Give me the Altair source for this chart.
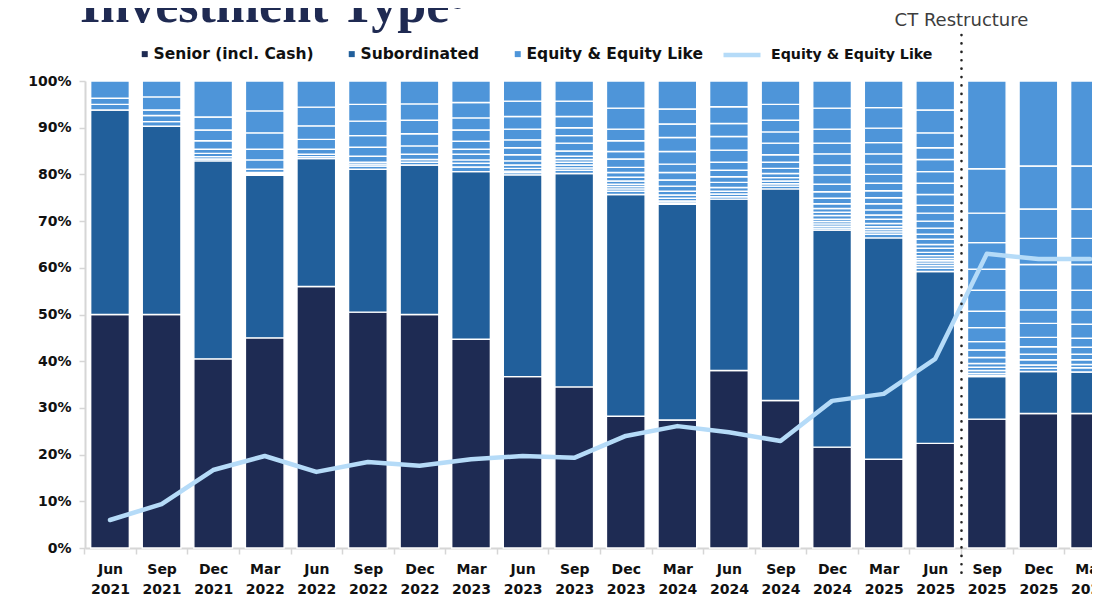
import altair as alt
import pandas as pd

categories = ["Jun 2021", "Sep 2021", "Dec 2021", "Mar 2022", "Jun 2022", "Sep 2022",
              "Dec 2022", "Mar 2023", "Jun 2023", "Sep 2023", "Dec 2023", "Mar 2024",
              "Jun 2024", "Sep 2024", "Dec 2024", "Mar 2025", "Jun 2025", "Sep 2025",
              "Dec 2025", "Mar 2026"]

senior = [50.0, 50.0, 40.5, 45.0, 56.0, 50.5, 50.0, 44.7, 36.7, 34.5,
          28.2, 27.4, 38.0, 31.6, 21.6, 19.0, 22.4, 27.6, 28.8, 28.8]

subordinated = [43.8, 40.3, 42.4, 34.8, 27.4, 30.6, 32.0, 35.9, 43.2, 45.7,
                47.5, 46.2, 36.7, 45.3, 46.5, 47.4, 36.8, 9.1, 9.0, 8.9]

equity_line = [6.0, 9.4, 16.7, 19.7, 16.3, 18.4, 17.6, 19.0, 19.7, 19.3,
               24.0, 26.1, 24.8, 22.9, 31.5, 33.0, 40.5, 63.0, 61.9, 61.9]

# levels (%) of the white separators between individual equity holdings
equity_splits = [
    [96.3, 95.0],
    [96.6, 93.8, 92.6, 91.3],
    [92.3, 89.5, 87.2, 85.4, 84.5, 83.8, 83.3],
    [93.6, 88.9, 85.4, 83.1, 81.1, 80.4, 80.1],
    [94.4, 90.4, 87.5, 85.4, 84.3, 83.8],
    [95.0, 91.4, 88.3, 85.8, 83.9, 82.6, 82.2, 81.8],
    [95.1, 91.6, 88.7, 86.1, 84.3, 83.2, 82.6],
    [95.4, 92.1, 89.5, 87.1, 85.4, 84.3, 83.1, 82.4, 81.6],
    [95.7, 92.4, 89.7, 87.4, 85.7, 84.2, 82.9, 82.0, 81.3, 80.7, 80.4],
    [95.7, 92.4, 90.0, 88.3, 86.7, 85.0, 83.9, 83.2, 82.6, 82.0, 81.4, 80.9],
    [94.2, 89.7, 87.2, 84.9, 83.3, 81.5, 80.4, 79.4, 78.6, 77.9, 77.4, 76.9, 76.4],
    [94.0, 90.8, 87.9, 84.9, 82.2, 80.4, 78.8, 77.5, 76.4, 75.6, 74.9, 74.3, 73.9],
    [94.5, 90.9, 88.1, 85.2, 82.6, 80.9, 79.5, 78.3, 77.2, 76.4, 75.8, 75.2],
    [95.0, 91.6, 89.1, 86.7, 84.2, 82.6, 81.3, 80.2, 79.3, 78.6, 78.0, 77.5],
    [94.2, 89.7, 86.7, 84.4, 82.0, 79.9, 77.9, 76.3, 74.9, 73.7, 72.7, 71.9, 71.2,
     70.4, 69.9, 69.4, 68.9, 68.5],
    [94.3, 89.9, 86.8, 84.4, 82.2, 80.0, 78.1, 76.5, 75.0, 73.7, 72.4, 71.3, 70.4,
     69.5, 68.8, 68.2, 67.7, 67.2],
    [93.8, 88.9, 85.7, 83.2, 80.6, 78.1, 75.7, 73.4, 71.7, 70.0, 68.5, 67.2, 66.1,
     65.0, 64.2, 63.3, 62.6, 62.0, 61.5, 61.0, 60.5, 59.9],
    [81.2, 71.7, 65.4, 59.7, 55.2, 50.7, 47.2, 44.2, 42.4, 40.8, 39.5, 38.7, 38.0,
     37.4, 37.0],
    [81.8, 72.6, 66.3, 60.7, 55.2, 51.0, 48.1, 45.1, 43.1, 41.5, 40.3, 39.2, 38.5],
    [81.8, 72.6, 66.3, 60.7, 55.2, 51.0, 47.9, 44.9, 43.0, 41.5, 40.3, 39.3, 38.6],
]

kinds = ["Senior (incl. Cash)", "Subordinated", "Equity & Equity Like"]
kind_colors = ["#1e2b53", "#215f9b", "#4e95d9"]
line_name = "Equity & Equity Like"
line_color = "#b5dbf8"
title_text = "Investment Type\u2076"
marker_cat = "Sep 2025"
marker_text = "CT Restructure"

rows = []
for i, c in enumerate(categories):
    s = senior[i]
    t = s + subordinated[i]
    rows.append(dict(cat=c, kind=kinds[0], y0=0.0, y1=s))
    rows.append(dict(cat=c, kind=kinds[1], y0=s, y1=t))
    levels = sorted([t] + equity_splits[i] + [100.0])
    for a, b in zip(levels[:-1], levels[1:]):
        rows.append(dict(cat=c, kind=kinds[2], y0=a, y1=b))
bar_df = pd.DataFrame(rows)
line_df = pd.DataFrame({"cat": categories, "value": equity_line, "series": line_name})

LABEL_FONT = "DejaVu Sans"
STEP = 1030 / 19.97

x_enc = alt.X(
    "cat:N",
    sort=categories,
    scale=alt.Scale(domain=categories, paddingInner=0.25, paddingOuter=0.11),
    axis=alt.Axis(
        title=None, labelAngle=0, labelExpr="split(datum.label, ' ')",
        labelFont=LABEL_FONT, labelFontSize=14, labelFontWeight="bold",
        labelColor="#111111", labelLineHeight=20, labelPadding=8,
        tickSize=6, tickColor="#d6d6d6", tickWidth=1.5,
        tickOffset=-STEP / 2, labelOffset=STEP / 2,
        domainColor="#d6d6d6", domainWidth=2,
    ),
)

y_enc = alt.Y(
    "y0:Q",
    scale=alt.Scale(domain=[0, 100], nice=False),
    axis=alt.Axis(
        title=None, values=list(range(0, 101, 10)), labelExpr="datum.value + '%'",
        labelFont=LABEL_FONT, labelFontSize=14, labelFontWeight="bold",
        labelColor="#111111", labelPadding=8, tickSize=6, tickColor="#d6d6d6",
        tickWidth=1.5, grid=False, domainColor="#d6d6d6", domainWidth=2,
    ),
)

bars = alt.Chart(bar_df).mark_bar(stroke="white", strokeWidth=1.4).encode(
    x=x_enc,
    y=y_enc,
    y2="y1:Q",
    color=alt.Color(
        "kind:N",
        scale=alt.Scale(domain=kinds, range=kind_colors),
        legend=alt.Legend(
            orient="none", legendX=52, legendY=-35, direction="horizontal",
            title=None, symbolType="square", symbolSize=36, symbolStrokeWidth=0,
            labelFont=LABEL_FONT, labelFontSize=15.5, labelFontWeight="bold",
            labelColor="#111111", labelOffset=1, labelLimit=0,
            columnPadding=30, padding=0,
        ),
    ),
    order=alt.Order("y0:Q"),
)

line = alt.Chart(line_df).mark_line(strokeWidth=4.5, strokeCap="round", strokeJoin="round").encode(
    x=alt.X("cat:N", sort=categories),
    y=alt.Y("value:Q"),
    stroke=alt.Stroke(
        "series:N",
        scale=alt.Scale(domain=[line_name], range=[line_color]),
        legend=alt.Legend(
            orient="none", legendX=636, legendY=-47, direction="horizontal",
            title=None, symbolType="stroke", symbolSize=1369, symbolStrokeWidth=4.5,
            labelFont=LABEL_FONT, labelFontSize=14.2, labelFontWeight="bold",
            labelColor="#111111", labelOffset=8, labelLimit=0, padding=0,
        ),
    ),
)

marker_df = pd.DataFrame({"cat": [marker_cat], "label": [marker_text]})

rule = alt.Chart(marker_df).mark_rule(
    color="#222222", strokeWidth=2.6, strokeDash=[0.1, 8.3], strokeCap="round", xOffset=-6
).encode(
    x=alt.X("cat:N", bandPosition=0),
    y=alt.value(-46),
    y2=alt.value(499),
)

ct_text = alt.Chart(marker_df).mark_text(
    font=LABEL_FONT, fontSize=18, color="#3d3d3d", align="center",
    baseline="alphabetic", xOffset=-6,
).encode(
    x=alt.X("cat:N", bandPosition=0),
    y=alt.value(-55),
    text="label:N",
)

title = alt.Chart(pd.DataFrame({"t": [title_text]})).mark_text(
    align="left", baseline="alphabetic", font="Liberation Serif", fontSize=52,
    fontWeight="bold", color="#1f2a52",
).encode(
    x=alt.value(-5),
    y=alt.value(-59),
    text="t:N",
)

chart = alt.layer(bars, line, rule, ct_text, title).properties(
    width=1030,
    height=467,
    padding={"left": 77, "top": 73, "right": -23, "bottom": 50},
    autosize=alt.AutoSizeParams(type="none"),
).configure_view(stroke=None)

chart.save("out.html", embed_options={"renderer": "svg", "actions": False})
